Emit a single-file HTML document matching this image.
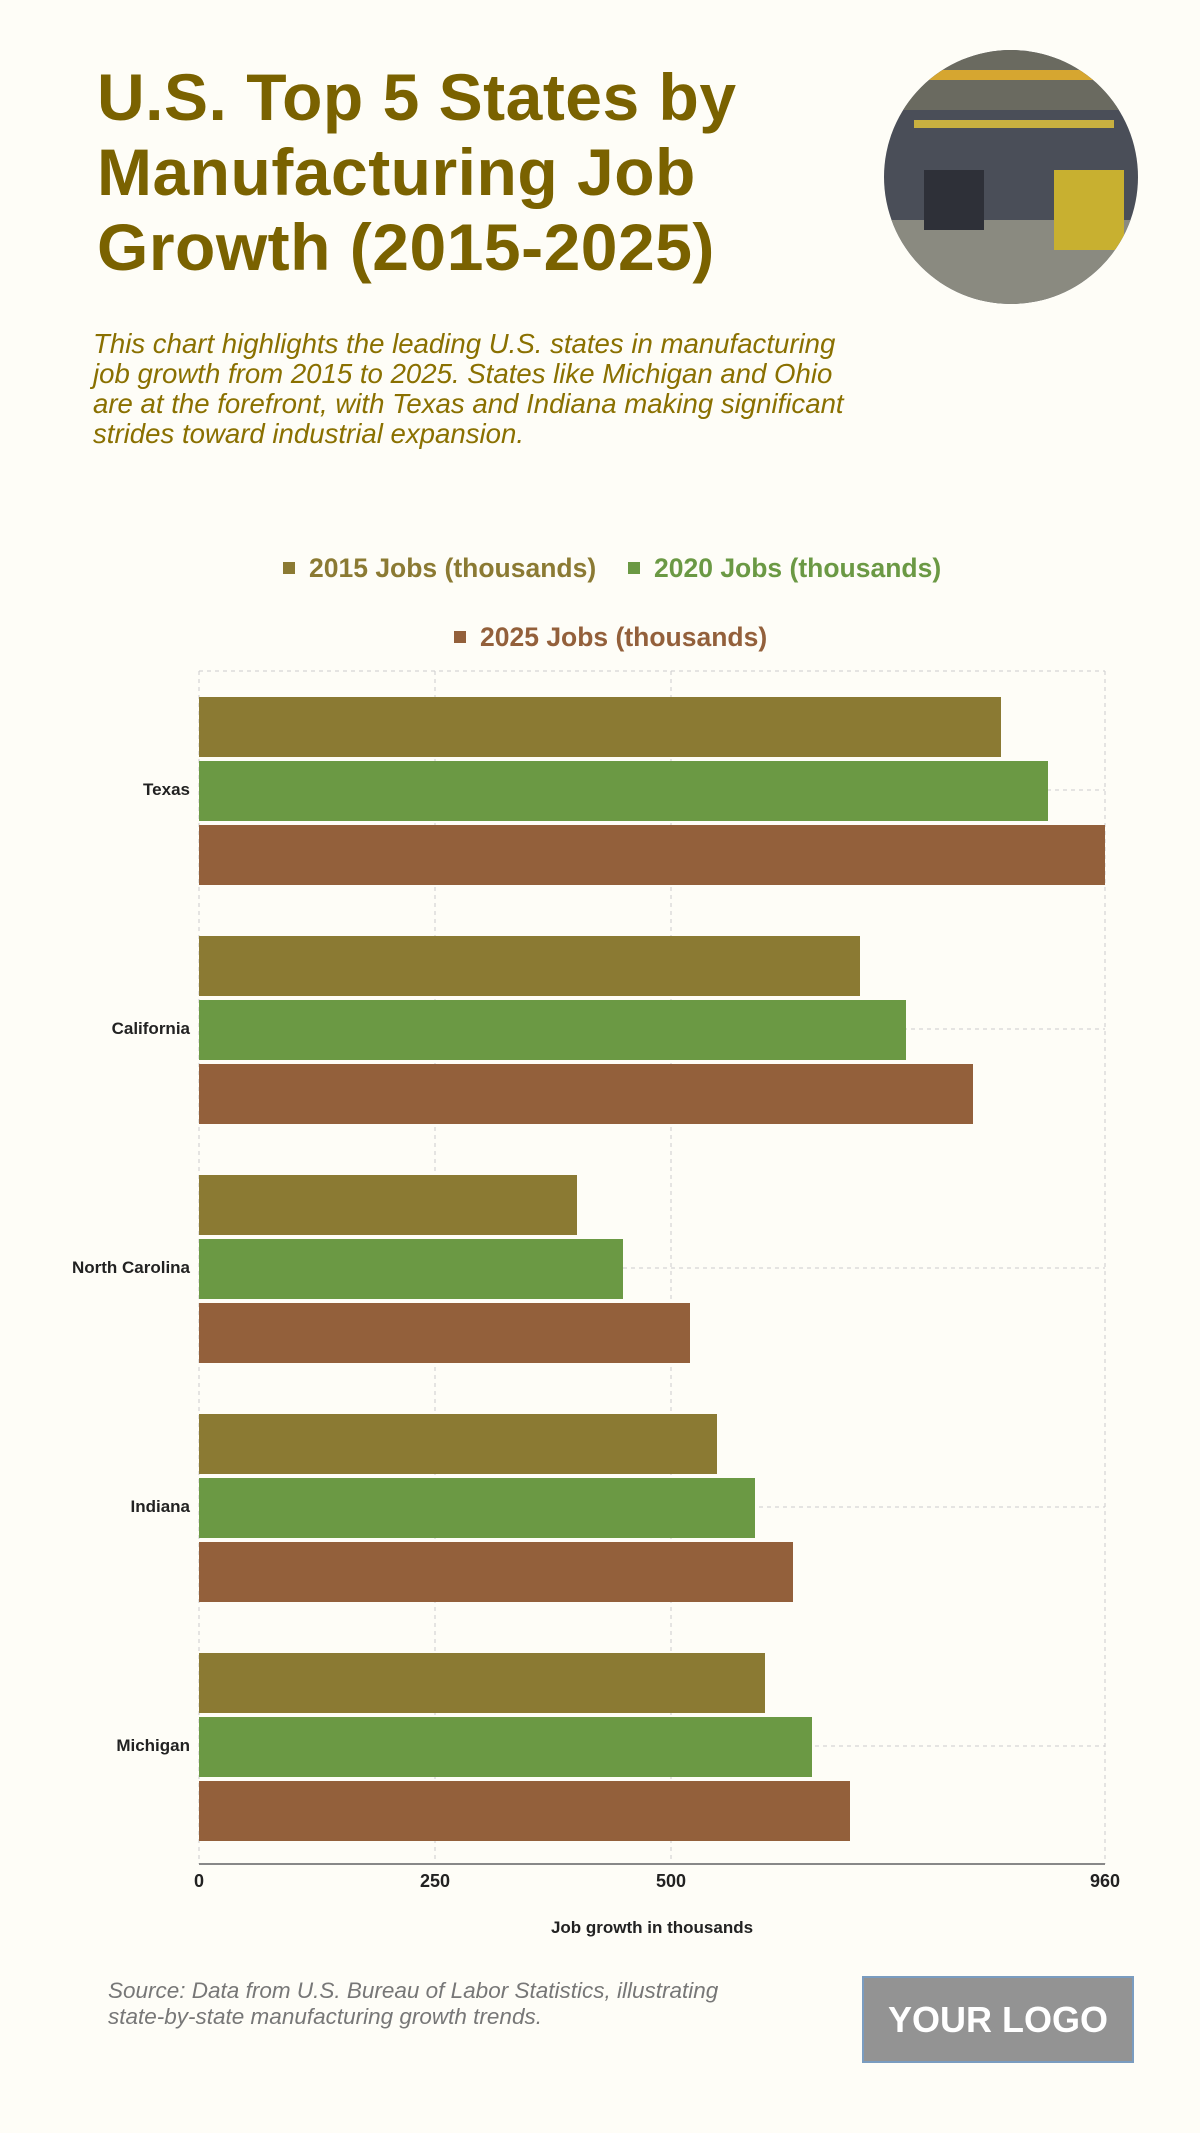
<!DOCTYPE html>
<html><head><meta charset="utf-8"><style>
body{margin:0;background:#fefdf7;}
.c{position:relative;width:1200px;height:2133px;background:#fefdf7;font-family:"Liberation Sans",sans-serif;overflow:hidden}
.t{position:absolute;left:97px;top:60px;font-size:66px;font-weight:bold;color:#7a6200;line-height:75px;letter-spacing:0.5px}
.s{position:absolute;left:93px;top:329px;font-size:27.6px;font-style:italic;color:#8a7000;line-height:30px}
.lg{position:absolute;font-size:26.5px;font-weight:bold;white-space:nowrap}
.sq{display:inline-block;width:12px;height:12px;margin-right:14px;vertical-align:3px}
.bar{position:absolute;left:199px;height:60px}
.yl{position:absolute;right:1010px;font-size:17px;font-weight:bold;color:#222;white-space:nowrap}
.xl{position:absolute;top:1871px;font-size:18px;font-weight:bold;color:#222;transform:translateX(-50%)}
</style></head><body><div class="c">
<div class="t">U.S. Top 5 States by<br>Manufacturing Job<br>Growth (2015-2025)</div>
<div class="s">This chart highlights the leading U.S. states in manufacturing<br>job growth from 2015 to 2025. States like Michigan and Ohio<br>are at the forefront, with Texas and Indiana making significant<br>strides toward industrial expansion.</div>
<svg style="position:absolute;left:884px;top:50px" width="254" height="254"><defs><clipPath id="cp"><circle cx="127" cy="127" r="127"/></clipPath></defs>
<g clip-path="url(#cp)"><rect width="254" height="254" fill="#4a4e58"/><rect y="0" width="254" height="60" fill="#6a6a60"/><rect x="20" y="20" width="200" height="10" fill="#d6a630"/><rect x="30" y="70" width="200" height="8" fill="#c8b040"/><rect y="170" width="254" height="84" fill="#8a8a80"/><rect x="170" y="120" width="70" height="80" fill="#c8b030"/><rect x="40" y="120" width="60" height="60" fill="#2e3038"/></g></svg>
<div class="lg" style="left:283px;top:553px;color:#8b7a33"><span class="sq" style="background:#8b7a33"></span>2015 Jobs (thousands)</div>
<div class="lg" style="left:628px;top:553px;color:#6b9944"><span class="sq" style="background:#6b9944"></span>2020 Jobs (thousands)</div>
<div class="lg" style="left:454px;top:622px;color:#93603b"><span class="sq" style="background:#93603b"></span>2025 Jobs (thousands)</div>
<svg style="position:absolute;left:0;top:0" width="1200" height="2133">
<g stroke="#ccc" stroke-dasharray="4,4" stroke-width="1">
<line x1="199" y1="671" x2="1105" y2="671"/>
<line x1="199" y1="671" x2="199" y2="1864"/><line x1="435" y1="671" x2="435" y2="1864"/><line x1="671" y1="671" x2="671" y2="1864"/><line x1="1105" y1="671" x2="1105" y2="1864"/>
<line x1="199" y1="790" x2="1105" y2="790"/><line x1="199" y1="1029" x2="1105" y2="1029"/><line x1="199" y1="1268" x2="1105" y2="1268"/><line x1="199" y1="1507" x2="1105" y2="1507"/><line x1="199" y1="1746" x2="1105" y2="1746"/>
</g></svg>
<div class="bar" style="top:697px;width:802px;background:#8b7a33"></div>
<div class="bar" style="top:761px;width:849px;background:#6b9944"></div>
<div class="bar" style="top:825px;width:906px;background:#93603b"></div>
<div class="bar" style="top:936px;width:661px;background:#8b7a33"></div>
<div class="bar" style="top:1000px;width:707px;background:#6b9944"></div>
<div class="bar" style="top:1064px;width:774px;background:#93603b"></div>
<div class="bar" style="top:1175px;width:378px;background:#8b7a33"></div>
<div class="bar" style="top:1239px;width:424px;background:#6b9944"></div>
<div class="bar" style="top:1303px;width:491px;background:#93603b"></div>
<div class="bar" style="top:1414px;width:518px;background:#8b7a33"></div>
<div class="bar" style="top:1478px;width:556px;background:#6b9944"></div>
<div class="bar" style="top:1542px;width:594px;background:#93603b"></div>
<div class="bar" style="top:1653px;width:566px;background:#8b7a33"></div>
<div class="bar" style="top:1717px;width:613px;background:#6b9944"></div>
<div class="bar" style="top:1781px;width:651px;background:#93603b"></div>
<div style="position:absolute;left:199px;top:1863px;width:906px;height:2px;background:#888"></div>
<div class="yl" style="top:780px">Texas</div>
<div class="yl" style="top:1019px">California</div>
<div class="yl" style="top:1258px">North Carolina</div>
<div class="yl" style="top:1497px">Indiana</div>
<div class="yl" style="top:1736px">Michigan</div>
<div class="xl" style="left:199px">0</div><div class="xl" style="left:435px">250</div><div class="xl" style="left:671px">500</div><div class="xl" style="left:1105px">960</div>
<div class="xl" style="left:652px;top:1918px;font-size:17px">Job growth in thousands</div>
<div style="position:absolute;left:108px;top:1978px;font-size:22.5px;font-style:italic;color:#777;line-height:26px">Source: Data from U.S. Bureau of Labor Statistics, illustrating<br>state-by-state manufacturing growth trends.</div>
<div style="position:absolute;left:862px;top:1976px;width:272px;height:87px;background:#939393;border:2px solid #7a9cc0;box-sizing:border-box;color:#fff;font-weight:bold;font-size:36px;text-align:center;line-height:83px">YOUR LOGO</div>
</div></body></html>
